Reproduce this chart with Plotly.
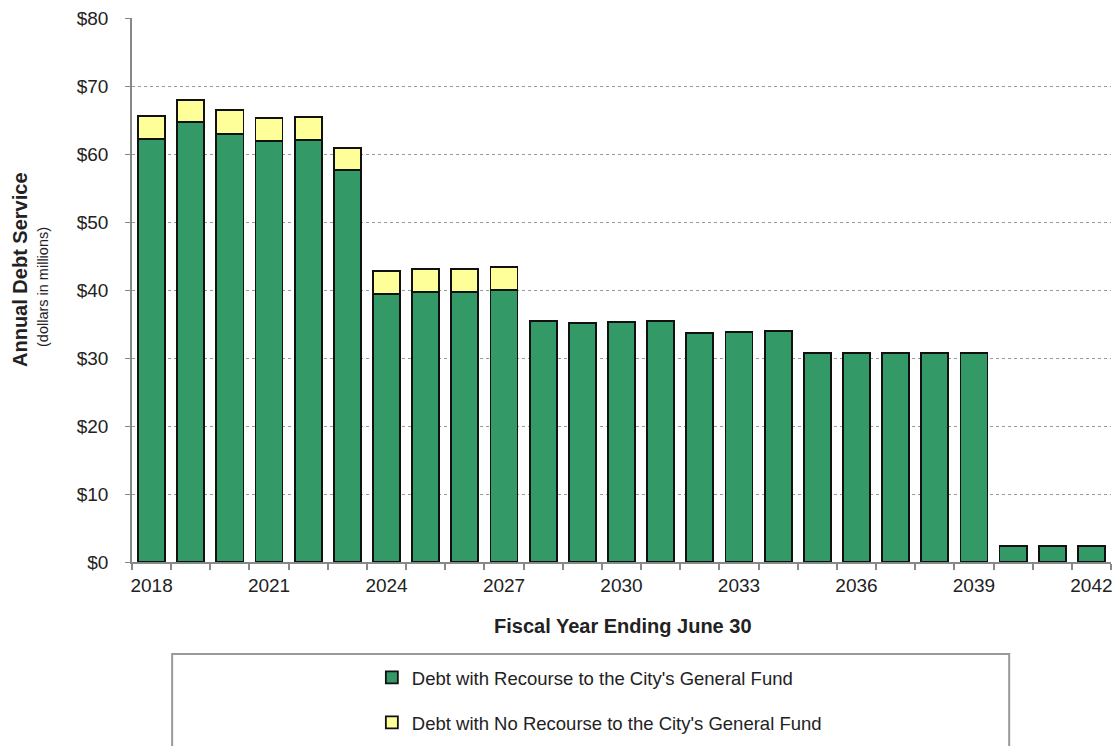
import plotly.graph_objects as go

years = list(range(2018, 2043))
recourse = [62.2, 64.7, 62.9, 61.9, 62.1, 57.6, 39.4, 39.7, 39.7, 40.0,
            35.4, 35.1, 35.3, 35.4, 33.7, 33.8, 34.0, 30.7, 30.7, 30.7,
            30.7, 30.7, 2.35, 2.35, 2.35]
no_recourse_total = [65.6, 67.9, 66.5, 65.3, 65.4, 60.9, 42.8, 43.1, 43.1, 43.4]
no_recourse = [round(t - r, 2) for t, r in zip(no_recourse_total, recourse)] + [0] * 15
tick_years = list(range(2018, 2043, 3))
tick_text = [str(y) for y in tick_years]
y_ticks = list(range(0, 81, 10))
y_text = ["$" + str(v) for v in y_ticks]

FONT = "Arial, 'Liberation Sans', sans-serif"
TXT = "#222222"

fig = go.Figure()
fig.add_trace(go.Bar(
    x=years, y=recourse, name="Debt with Recourse to the City's General Fund",
    marker=dict(color="#339966", line=dict(color="#111111", width=1.8)),
    legendgroup="a",
))
fig.add_trace(go.Bar(
    x=years[:10], y=no_recourse[:10], name="Debt with No Recourse to the City's General Fund",
    marker=dict(color="#FFFF99", line=dict(color="#111111", width=1.8)),
    legendgroup="b",
))

fig.update_layout(
    width=1112, height=738,
    margin=dict(l=124, r=9, t=10, b=184, autoexpand=False),
    paper_bgcolor="white", plot_bgcolor="white",
    barmode="stack", bargap=0.31,
    font=dict(family=FONT, color=TXT, size=16),
    showlegend=True,
    legend=dict(
        x=0.245, y=-0.178, xanchor="left", yanchor="top",
        traceorder="grouped", tracegroupgap=18,
        font=dict(size=18.5, color=TXT),
        bgcolor="rgba(0,0,0,0)", borderwidth=0,
    ),
    xaxis=dict(
        range=[2017.5, 2042.5], automargin=False,
        tickmode="array", tickvals=tick_years, ticktext=tick_text,
        ticks="", showgrid=False, zeroline=False,
        showline=True, linecolor="#888888", linewidth=1.5,
        ticklabelstandoff=5, ticklabeloverflow="allow",
        tickfont=dict(size=19, color=TXT),
        minor=dict(tick0=2017.5, dtick=1, ticks="outside", ticklen=6,
                   tickcolor="#888888", tickwidth=1.5, showgrid=False),
    ),
    yaxis=dict(
        range=[0, 80], automargin=False,
        tickmode="array", tickvals=y_ticks, ticktext=y_text,
        ticks="outside", ticklen=5, tickcolor="#888888", tickwidth=1.2,
        ticklabelstandoff=13, ticklabeloverflow="allow",
        showgrid=True, gridcolor="#999999", griddash="dot", gridwidth=1,
        zeroline=False, showline=True, linecolor="#888888", linewidth=1.5,
        tickfont=dict(size=19, color=TXT),
    ),
    annotations=[
        dict(text="<b>Annual Debt Service</b>", textangle=-90, xref="paper", yref="paper",
             x=-0.1144, y=0.5368, xanchor="center", yanchor="middle", showarrow=False,
             font=dict(size=20, color=TXT)),
        dict(text="(dollars in millions)", textangle=-90, xref="paper", yref="paper",
             x=-0.0909, y=0.5055, xanchor="center", yanchor="middle", showarrow=False,
             font=dict(size=14.5, color=TXT)),
        dict(text="<b>Fiscal Year Ending June 30</b>", xref="paper", yref="paper",
             x=0.5015, y=-0.1176, xanchor="center", yanchor="middle", showarrow=False,
             font=dict(size=20, color=TXT)),
    ],
    shapes=[dict(type="rect", xref="paper", yref="paper",
                 x0=0.041, x1=0.896, y0=-0.40, y1=-0.1691,
                 line=dict(color="#999999", width=2), fillcolor="rgba(0,0,0,0)", layer="below")],
)

fig.write_html("out.html")
